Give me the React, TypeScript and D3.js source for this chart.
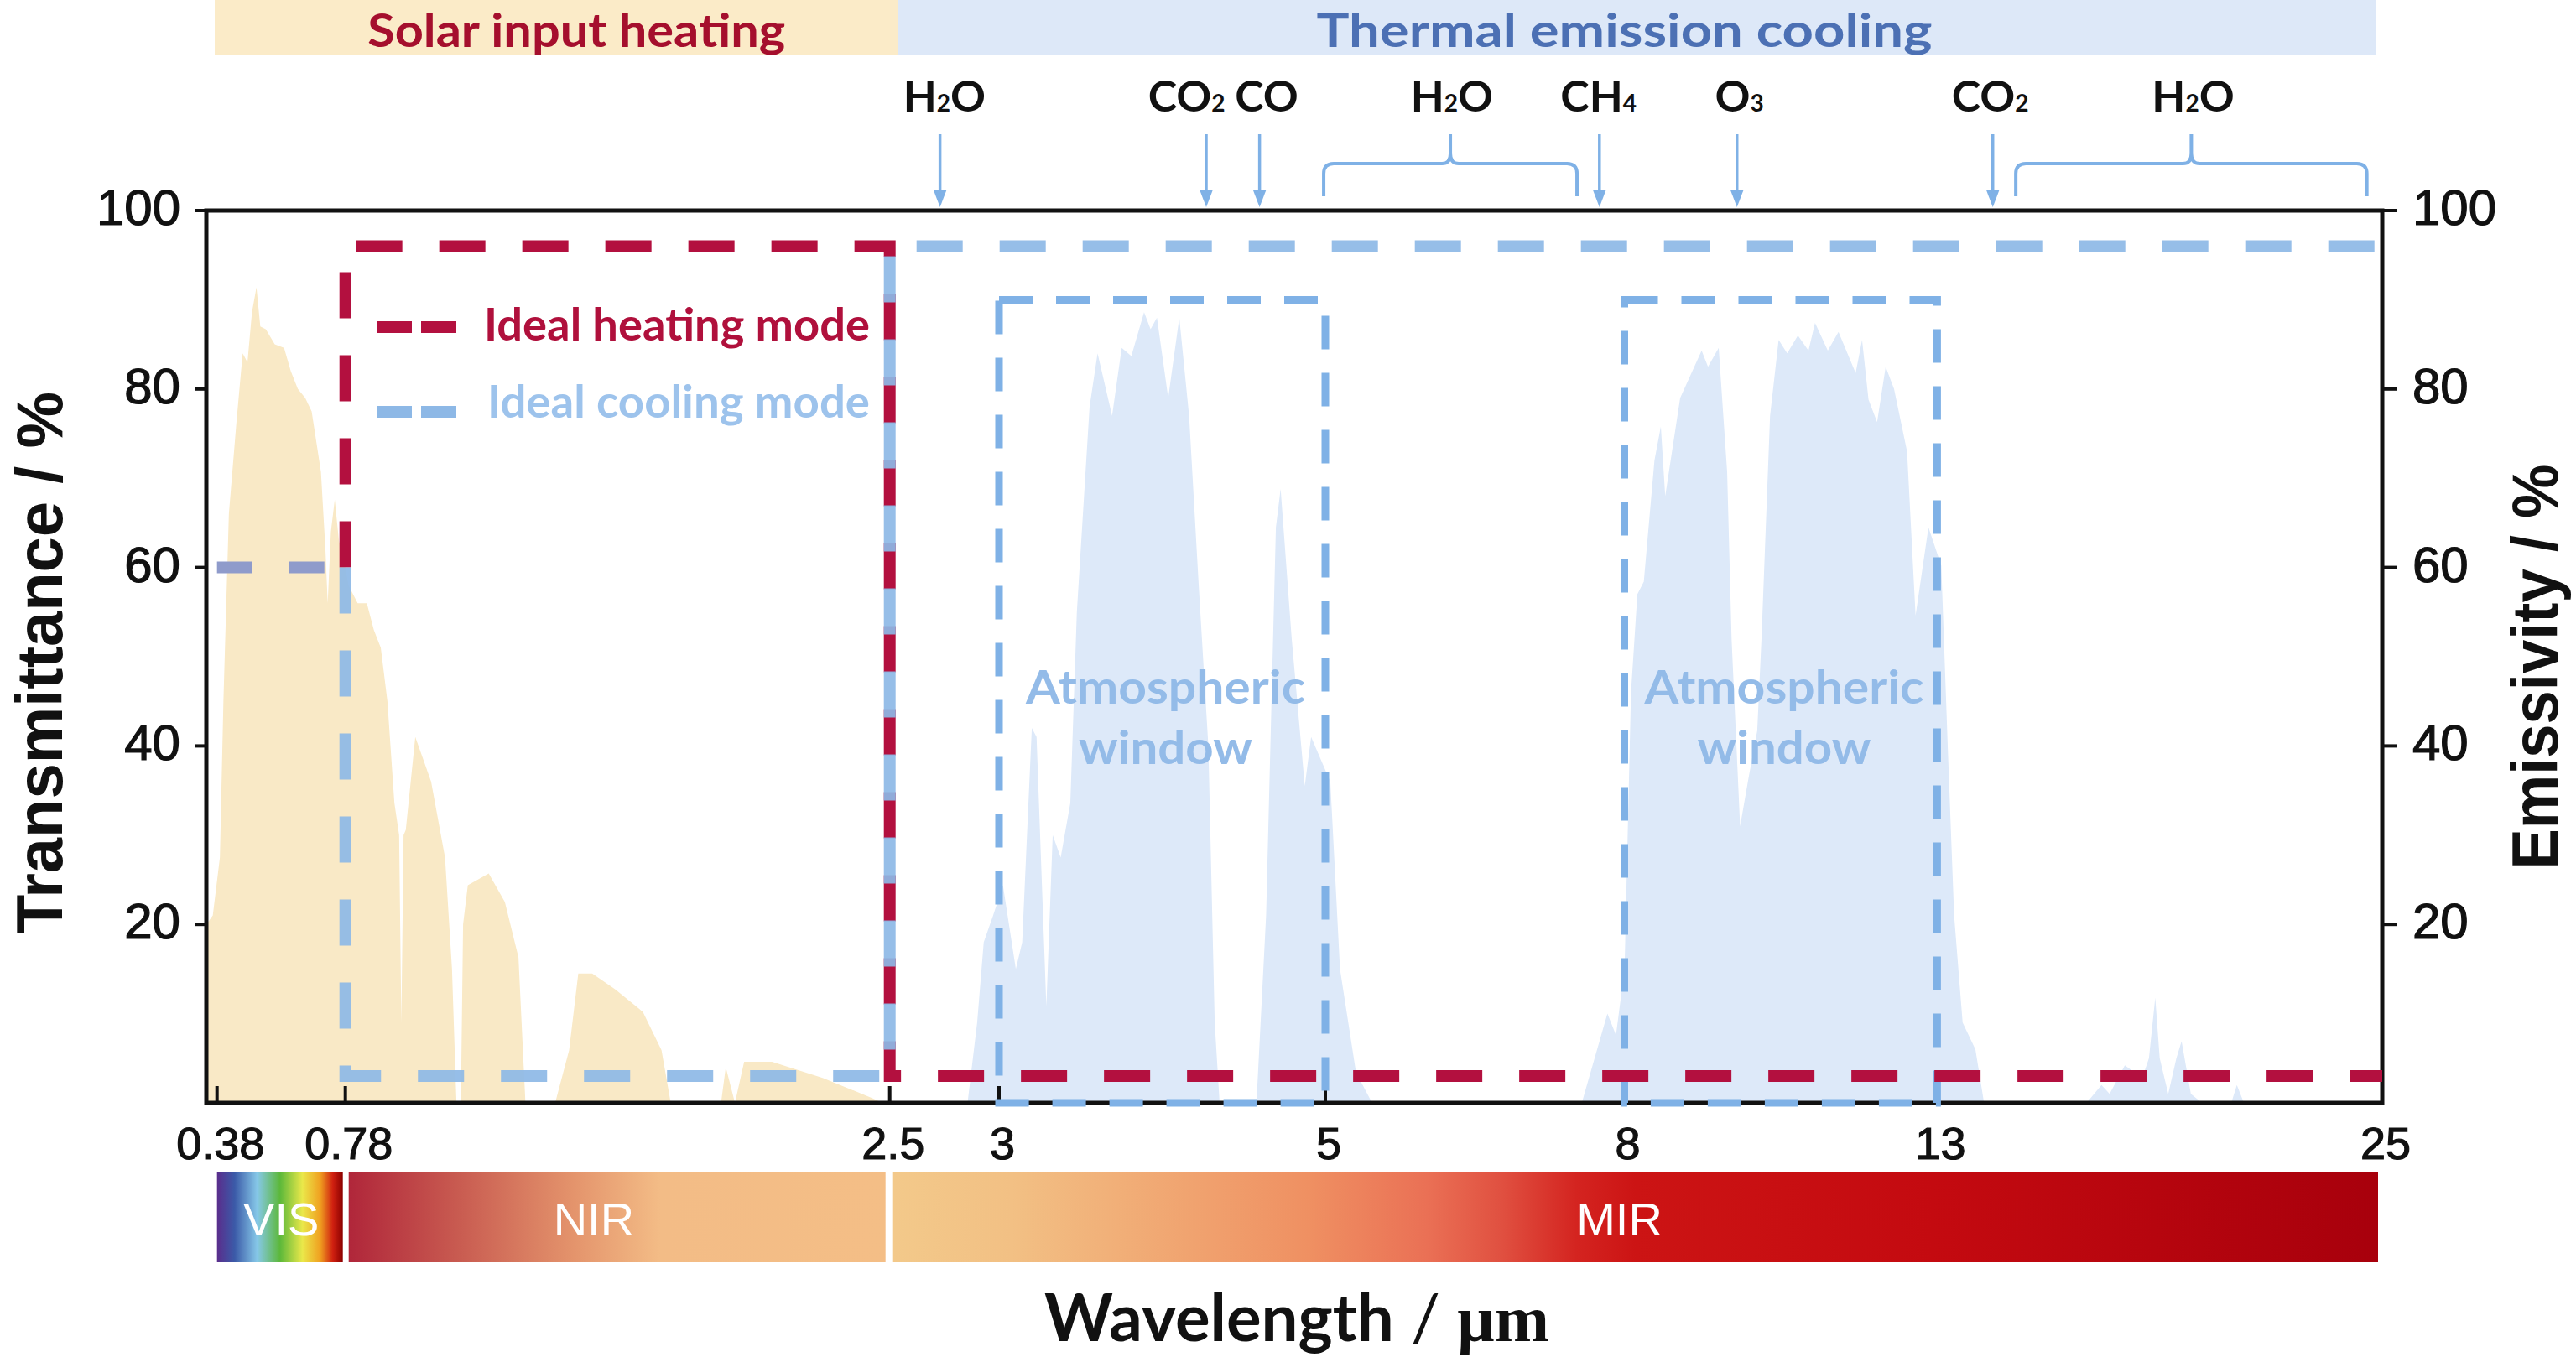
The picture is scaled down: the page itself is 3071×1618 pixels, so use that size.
import React from 'react';
import * as d3 from 'd3';

// ---- data ----
const X_TICKS = [0.38, 0.78, 2.5, 3, 5, 8, 13, 25];
const Y_TICKS = [20, 40, 60, 80, 100];

// solar transmittance (wavelength um, %)
const SOLAR: [number, number][] = [
  [0.347, 20], [0.367, 21], [0.389, 27.5], [0.4, 45], [0.417, 66], [0.44, 76],
  [0.46, 84], [0.475, 83], [0.489, 88.6], [0.503, 91.4], [0.515, 87], [0.532, 86.7],
  [0.56, 85], [0.589, 84.6], [0.61, 82], [0.632, 80], [0.655, 79], [0.675, 77.5],
  [0.69, 74], [0.704, 70.7], [0.718, 62], [0.725, 56], [0.735, 64], [0.747, 67.6],
  [0.76, 63], [0.776, 60.8], [0.79, 58], [0.819, 56], [0.848, 56], [0.87, 53],
  [0.892, 51], [0.913, 45], [0.935, 33.6], [0.95, 30], [0.957, 9], [0.964, 30],
  [0.971, 30.6], [1.001, 41], [1.051, 36], [1.095, 27.5], [1.117, 15], [1.131, 0],
  [1.145, 0], [1.152, 20], [1.167, 24.4], [1.233, 25.7], [1.284, 22.5], [1.327, 16.3],
  [1.349, 0], [1.443, 0], [1.487, 5.9], [1.516, 14.5], [1.56, 14.5], [1.633, 12.7],
  [1.72, 10.2], [1.779, 5.9], [1.808, 0], [1.967, 0], [1.982, 4], [2.011, 0],
  [2.04, 4.6], [2.128, 4.6], [2.288, 2.8], [2.447, 0.5], [2.476, 0],
];

// atmospheric transmittance (wavelength um, %)
const ATMOSPHERE: [number, number][] = [
  [2.856, 0], [2.9, 9], [2.93, 18], [2.973, 21], [3.024, 24.4], [3.103, 15],
  [3.142, 18], [3.201, 42], [3.23, 41], [3.29, 10.8], [3.329, 30], [3.378, 27.5],
  [3.437, 33.6], [3.477, 55], [3.555, 78], [3.604, 84], [3.693, 77], [3.752, 84.6],
  [3.811, 83.7], [3.889, 88.6], [3.929, 86.7], [3.968, 88], [4.037, 79], [4.105, 88],
  [4.165, 77], [4.224, 58], [4.283, 40], [4.322, 9], [4.352, 0], [4.578, 0],
  [4.637, 21], [4.697, 64.5], [4.726, 68.8], [4.794, 52], [4.874, 35.5], [4.913, 41],
  [5.05, 36], [5.147, 15], [5.308, 3.4], [5.469, 0], [7.573, 0], [7.83, 10],
  [7.916, 7.6], [8.003, 15], [8.106, 46], [8.208, 57], [8.311, 58.4], [8.481, 72],
  [8.583, 75.8], [8.653, 68], [8.892, 79], [9.235, 84.3], [9.337, 82.5], [9.508, 84.6],
  [9.643, 70.7], [9.714, 52], [9.85, 31], [9.987, 36.5], [10.124, 41.7], [10.192, 52],
  [10.329, 77], [10.466, 85.5], [10.603, 84], [10.774, 86], [10.943, 84.3], [11.048, 87.4],
  [11.252, 84.3], [11.423, 86.4], [11.697, 81.8], [11.8, 85.5], [11.903, 78.8], [12.04, 76.3],
  [12.177, 82.5], [12.311, 80], [12.519, 73], [12.655, 54.6], [12.861, 64.5], [13.111, 60.2],
  [13.285, 40], [13.457, 21], [13.687, 9], [14.031, 6], [14.264, 0], [17.03, 0],
  [17.43, 2], [17.65, 1], [18.06, 4.2], [18.53, 2.8], [18.71, 5], [18.88, 11.8],
  [19.0, 5], [19.23, 1], [19.45, 5], [19.59, 6.9], [19.84, 1], [20.14, 0],
  [20.93, 0], [21.08, 2], [21.27, 0],
];

// ideal spectra
const COOLING: [number, number][] = [[0.78, 60], [0.78, 3], [2.5, 3], [2.5, 96], [25, 96]];
const HEATING: [number, number][] = [[0.78, 60], [0.78, 96], [2.5, 96], [2.5, 3], [25, 3]];
const SHARED: [number, number][] = [[0.38, 60], [0.78, 60]];

const WINDOWS: [number, number][] = [[3, 5], [8, 13]];
const WINDOW_TOP = 90;

const TOP_BANDS = [
  { label: 'Solar input heating', from: 0.373, to: 2.536, at: 1.51 },
  { label: 'Thermal emission cooling', from: 2.536, to: 24.82, at: 8.0 },
];

const SPECTRAL_BANDS = [
  { label: 'VIS', from: 0.38, to: 0.78, at: 0.58 },
  { label: 'NIR', from: 0.78, to: 2.5, at: 1.565 },
  { label: 'MIR', from: 2.5, to: 25, at: 7.95 },
];

// molecule labels: [main, subscript, tail]
const MOL_LABELS: [string, string, string][] = [
  ['H', '2', 'O'], ['CO', '2', ''], ['CO', '', ''], ['H', '2', 'O'],
  ['CH', '4', ''], ['O', '3', ''], ['CO', '2', ''], ['H', '2', 'O'],
];
const MOL_LABEL_X = [2.75, 4.15, 4.64, 6.27, 7.74, 9.84, 14.43, 19.9];
const ARROW_X = [2.73, 4.27, 4.597, 7.75, 9.8, 14.5];
const BRACKETS: [number, number][] = [[4.99, 7.525], [15.12, 24.585]];

// ---- layout ----
const W = 3071;
const H = 1618;
const PLOT = { left: 246, right: 2840, top: 251, bottom: 1315 };
const X_BREAKS = [0.347, 0.38, 0.78, 2.5, 3, 5, 8, 13, 25];
const X_BREAK_PX = [246, 258.7, 411.7, 1060.7, 1191, 1580, 1936.5, 2309.4, 2840];

const SANS = '"Liberation Sans", Arial, sans-serif';
const LATO = 'Lato, "Open Sans", sans-serif';

const RED = '#b3103f';
const BLUE = '#8db8e6';
const WIN_BLUE = '#7fb1e6';

export default function App() {
  const x = d3.scaleLinear().domain(X_BREAKS).range(X_BREAK_PX);
  const y = d3.scaleLinear().domain([0, 100]).range([PLOT.bottom, PLOT.top]);

  const area = d3
    .area<[number, number]>()
    .x((d) => x(d[0]))
    .y0(y(0))
    .y1((d) => y(d[1]));
  const line = d3
    .line<[number, number]>()
    .x((d) => x(d[0]))
    .y((d) => y(d[1]));

  const barTop = 1398;
  const barBottom = 1505;

  return (
    <svg
      width={W}
      height={H}
      style={{ position: 'absolute', left: 0, top: 0, background: '#fff' }}
    >
      <defs>
        <linearGradient id="gVIS" x1="0" x2="1" y1="0" y2="0">
          <stop offset="0%" stopColor="#5a2d8c" />
          <stop offset="14%" stopColor="#3b5aa8" />
          <stop offset="32%" stopColor="#86c8e8" />
          <stop offset="50%" stopColor="#5cb83a" />
          <stop offset="68%" stopColor="#eae84a" />
          <stop offset="82%" stopColor="#f0a020" />
          <stop offset="92%" stopColor="#d02010" />
          <stop offset="100%" stopColor="#8b0000" />
        </linearGradient>
        <linearGradient id="gNIR" x1="0" x2="1" y1="0" y2="0">
          <stop offset="0%" stopColor="#b0263a" />
          <stop offset="20%" stopColor="#c85a50" />
          <stop offset="42%" stopColor="#e4946c" />
          <stop offset="58%" stopColor="#f3bc86" />
          <stop offset="100%" stopColor="#f4be86" />
        </linearGradient>
        <linearGradient id="gMIR" x1="0" x2="1" y1="0" y2="0">
          <stop offset="0%" stopColor="#f3c98a" />
          <stop offset="8%" stopColor="#f2c084" />
          <stop offset="28%" stopColor="#ef9062" />
          <stop offset="36%" stopColor="#ea7055" />
          <stop offset="41%" stopColor="#e05040" />
          <stop offset="46%" stopColor="#d42420" />
          <stop offset="50%" stopColor="#cc1414" />
          <stop offset="70%" stopColor="#c40a10" />
          <stop offset="100%" stopColor="#a8000c" />
        </linearGradient>
      </defs>

      {/* top bands */}
      {TOP_BANDS.map((b, i) => (
        <g key={b.label}>
          <rect
            x={x(b.from)}
            y={0}
            width={x(b.to) - x(b.from)}
            height={66}
            fill={i === 0 ? '#fbebc8' : '#dde8f8'}
          />
          <text
            x={x(b.at)}
            y={56}
            textAnchor="middle"
            fontFamily={LATO}
            fontWeight={700}
            fontSize={56}
            fill={i === 0 ? '#a50f2d' : '#4c70b4'}
            textLength={i === 0 ? 498 : 734}
            lengthAdjust="spacingAndGlyphs"
          >
            {b.label}
          </text>
        </g>
      ))}

      {/* molecules */}
      {MOL_LABELS.map((m, i) => (
        <text
          key={i}
          x={x(MOL_LABEL_X[i])}
          y={133}
          textAnchor="middle"
          fontFamily={LATO}
          fontWeight={700}
          fontSize={52}
          fill="#111"
        >
          {m[0]}
          {m[1] && <tspan fontSize={28}>{m[1]}</tspan>}
          {m[2]}
        </text>
      ))}
      {ARROW_X.map((a, i) => (
        <g key={i} stroke={WIN_BLUE} fill={WIN_BLUE}>
          <line x1={x(a)} x2={x(a)} y1={160} y2={230} strokeWidth={3.5} />
          <path d={`M${x(a) - 8},226 L${x(a) + 8},226 L${x(a)},247 Z`} stroke="none" />
        </g>
      ))}
      {BRACKETS.map(([a, b], i) => {
        const x1 = x(a);
        const x2 = x(b);
        const xc = (x1 + x2) / 2;
        return (
          <path
            key={i}
            d={`M${x1},234 L${x1},207 Q${x1},195 ${x1 + 12},195 L${xc - 10},195 Q${xc},195 ${xc},183 L${xc},160 M${xc},183 Q${xc},195 ${xc + 10},195 L${x2 - 12},195 Q${x2},195 ${x2},207 L${x2},234`}
            fill="none"
            stroke={WIN_BLUE}
            strokeWidth={4}
          />
        );
      })}

      {/* spectra */}
      <path d={area(SOLAR) ?? ''} fill="#f9e9c6" />
      <path d={area(ATMOSPHERE) ?? ''} fill="#dde9f9" />

      {/* axes */}
      <g stroke="#111" strokeWidth={5} fill="none">
        <rect
          x={PLOT.left}
          y={PLOT.top}
          width={PLOT.right - PLOT.left}
          height={PLOT.bottom - PLOT.top}
        />
        {X_TICKS.slice(0, -1).map((t) => (
          <line key={t} x1={x(t)} x2={x(t)} y1={PLOT.bottom} y2={PLOT.bottom - 20} strokeWidth={4} />
        ))}
        {Y_TICKS.map((t) => (
          <g key={t}>
            <line x1={PLOT.left - 14} x2={PLOT.left} y1={y(t)} y2={y(t)} strokeWidth={4} />
            <line x1={PLOT.right} x2={PLOT.right + 18} y1={y(t)} y2={y(t)} strokeWidth={4} />
          </g>
        ))}
      </g>

      {/* atmospheric windows */}
      {WINDOWS.map(([a, b]) => (
        <rect
          key={a}
          x={x(a)}
          y={y(WINDOW_TOP)}
          width={x(b) - x(a)}
          height={y(0) - y(WINDOW_TOP)}
          fill="none"
          stroke={WIN_BLUE}
          strokeWidth={9}
          strokeDasharray="40 28"
        />
      ))}

      {/* ideal modes */}
      <path d={line(HEATING) ?? ''} fill="none" stroke={RED} strokeWidth={14} strokeDasharray="55 44" />
      <path d={line(COOLING) ?? ''} fill="none" stroke={BLUE} strokeWidth={14} strokeDasharray="55 44" strokeOpacity={0.92} />
      <path d={line(SHARED) ?? ''} fill="none" stroke="#8f9bcb" strokeWidth={14} strokeDasharray="42 44" />

      {/* legend */}
      <line x1={449} x2={546} y1={390} y2={390} stroke={RED} strokeWidth={14} strokeDasharray="42 11" />
      <line x1={449} x2={546} y1={491} y2={491} stroke={BLUE} strokeWidth={14} strokeDasharray="42 11" />
      <text x={577} y={406} fontFamily={LATO} fontWeight={700} fontSize={54} fill="#b0103c" textLength={460} lengthAdjust="spacingAndGlyphs">
        Ideal heating mode
      </text>
      <text x={581} y={498} fontFamily={LATO} fontWeight={700} fontSize={54} fill="#9dc3ec" textLength={456} lengthAdjust="spacingAndGlyphs">
        Ideal cooling mode
      </text>

      {WINDOWS.map(([a, b]) => {
        const cx = (x(a) + x(b)) / 2 + 4;
        return (
          <g key={a} fontFamily={LATO} fontWeight={700} fontSize={56} fill="#93bbe8" textAnchor="middle">
            <text x={cx} y={839} textLength={333} lengthAdjust="spacingAndGlyphs">
              Atmospheric
            </text>
            <text x={cx} y={911} textLength={207} lengthAdjust="spacingAndGlyphs">
              window
            </text>
          </g>
        );
      })}

      {/* tick labels */}
      <g fontFamily={SANS} fontSize={60} fill="#111" stroke="#111" strokeWidth={1.2}>
        {Y_TICKS.map((t) => (
          <g key={t}>
            <text x={PLOT.left - 31} y={y(t) + 17} textAnchor="end">
              {t}
            </text>
            <text x={PLOT.right + 36} y={y(t) + 17} textAnchor="start">
              {t}
            </text>
          </g>
        ))}
      </g>
      <g fontFamily={SANS} fontSize={54} fill="#111" stroke="#111" strokeWidth={1.2} textAnchor="middle">
        {X_TICKS.map((t) => (
          <text key={t} x={x(t) + 4} y={1382}>
            {t}
          </text>
        ))}
      </g>

      {/* axis titles */}
      <text
        transform="translate(74,790) rotate(-90)"
        textAnchor="middle"
        fontFamily={SANS}
        fontWeight={700}
        fontSize={78}
        fill="#111"
        textLength={646}
        lengthAdjust="spacingAndGlyphs"
      >
        Transmittance / %
      </text>
      <text
        transform="translate(3049,795) rotate(-90)"
        textAnchor="middle"
        fontFamily={SANS}
        fontWeight={700}
        fontSize={78}
        fill="#111"
        textLength={483}
        lengthAdjust="spacingAndGlyphs"
      >
        Emissivity / %
      </text>

      {/* spectral bar */}
      {SPECTRAL_BANDS.map((b, i) => (
        <g key={b.label}>
          <rect
            x={x(b.from) + (i === 0 ? 0 : 4)}
            y={barTop}
            width={x(b.to) - x(b.from) - (i === 0 ? 3 : 9)}
            height={barBottom - barTop}
            fill={`url(#g${b.label})`}
          />
          <text
            x={x(b.at)}
            y={1473}
            textAnchor="middle"
            fontFamily={SANS}
            fontSize={56}
            fill="#fff"
          >
            {b.label}
          </text>
        </g>
      ))}

      <text x={1546} y={1599} textAnchor="middle" fill="#111" fontSize={78}>
        <tspan fontFamily={LATO} fontWeight={700}>
          Wavelength
        </tspan>
        <tspan fontFamily={LATO} fontWeight={400}> / </tspan>
        <tspan fontFamily='"Liberation Serif", "DejaVu Serif", serif' fontWeight={700}>
          µm
        </tspan>
      </text>
    </svg>
  );
}
